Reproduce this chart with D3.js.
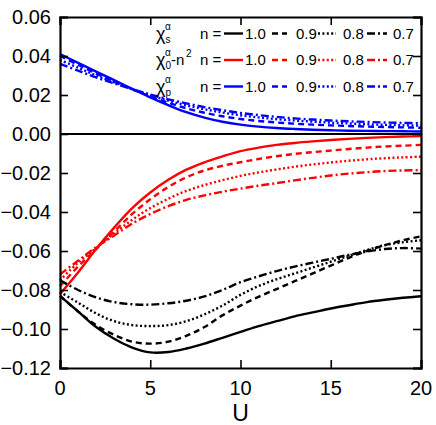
<!DOCTYPE html>
<html><head><meta charset="utf-8">
<script src="https://cdn.jsdelivr.net/npm/d3@7"></script>
<style>body{margin:0;background:#fff}</style>
</head><body>
<svg id="c" width="436" height="425"></svg>
<script>
const U = [0,1,2,3,4,5,6,7,8,9,10,11,12,13,14,15,16,17,18,19,20];
const nLabels = ["1.0","0.9","0.8","0.7"];
const xTicks = [0,5,10,15,20];
const yTicks = [0.06,0.04,0.02,0.00,-0.02,-0.04,-0.06,-0.08,-0.10,-0.12];

// chi_s (black)
const chiS_10 = [-0.083,-0.091,-0.099,-0.105,-0.1095,-0.112,-0.1118,-0.110,-0.1075,-0.1045,-0.1015,-0.0985,-0.096,-0.0935,-0.0915,-0.0895,-0.0878,-0.0862,-0.0850,-0.0840,-0.0832];
const chiS_09 = [-0.083,-0.091,-0.098,-0.103,-0.1065,-0.1075,-0.1065,-0.1035,-0.099,-0.093,-0.088,-0.0835,-0.0795,-0.0755,-0.0715,-0.0675,-0.0635,-0.0600,-0.0570,-0.0545,-0.0525];
const chiS_08 = [-0.081,-0.0865,-0.092,-0.096,-0.098,-0.0985,-0.098,-0.0960,-0.0925,-0.0880,-0.0825,-0.0780,-0.0745,-0.0715,-0.0685,-0.0655,-0.0625,-0.0595,-0.0570,-0.0555,-0.0545];
const chiS_07 = [-0.075,-0.080,-0.0838,-0.0862,-0.0873,-0.0875,-0.0868,-0.0855,-0.0833,-0.0800,-0.0760,-0.0730,-0.0703,-0.0680,-0.0660,-0.0640,-0.0620,-0.0603,-0.0590,-0.0585,-0.0588];

// chi_0 - n^2 (red)
const chi0_10 = [-0.082,-0.071,-0.059,-0.048,-0.038,-0.030,-0.0235,-0.0183,-0.0145,-0.0115,-0.0088,-0.0070,-0.0056,-0.0046,-0.0038,-0.0031,-0.0025,-0.0020,-0.0016,-0.0013,-0.0011];
const chi0_09 = [-0.078,-0.068,-0.059,-0.050,-0.041,-0.0335,-0.0272,-0.0222,-0.0187,-0.0163,-0.0145,-0.0128,-0.0114,-0.0102,-0.0093,-0.0085,-0.0077,-0.0070,-0.0064,-0.0060,-0.0056];
const chi0_08 = [-0.075,-0.066,-0.0585,-0.051,-0.044,-0.0380,-0.0332,-0.0292,-0.0262,-0.0237,-0.0215,-0.0197,-0.0182,-0.0168,-0.0156,-0.0146,-0.0137,-0.0130,-0.0124,-0.0120,-0.0116];
const chi0_07 = [-0.072,-0.065,-0.058,-0.052,-0.046,-0.0410,-0.0370,-0.0338,-0.0315,-0.0296,-0.0280,-0.0265,-0.0252,-0.0238,-0.0225,-0.0213,-0.0203,-0.0196,-0.0190,-0.0187,-0.0185];

// chi_p (blue)
const chiP_10 = [0.041,0.0365,0.032,0.0276,0.0232,0.0188,0.0148,0.0112,0.0084,0.0063,0.0048,0.0038,0.0031,0.0026,0.0022,0.0019,0.0017,0.0016,0.0015,0.0014,0.0013];
const chiP_09 = [0.040,0.0355,0.031,0.0268,0.0229,0.0193,0.0160,0.0132,0.0109,0.0091,0.0077,0.0067,0.0059,0.0053,0.0048,0.0044,0.0041,0.0038,0.0036,0.0034,0.0032];
const chiP_08 = [0.038,0.0340,0.030,0.0265,0.0230,0.0199,0.0171,0.0147,0.0127,0.0110,0.0096,0.0085,0.0076,0.0069,0.0063,0.0058,0.0054,0.0050,0.0047,0.0045,0.0043];
const chiP_07 = [0.036,0.0325,0.029,0.0260,0.0230,0.0203,0.0178,0.0157,0.0138,0.0122,0.0108,0.0097,0.0088,0.0080,0.0074,0.0069,0.0065,0.0062,0.0059,0.0057,0.0055];

const dashes = ["none","6,4","2,2.4","8,3,2,3"];
const groups = [
  {color:"#0000ff", series:[chiP_10,chiP_09,chiP_08,chiP_07]},
  {color:"#ff0000", series:[chi0_10,chi0_09,chi0_08,chi0_07]},
  {color:"#000000", series:[chiS_10,chiS_09,chiS_08,chiS_07]}
];

const L=60,R=421,T=17,B=368;
const font = "'Liberation Sans', Arial, sans-serif";
const svg = d3.select("#c");
const x = d3.scaleLinear().domain([0,20]).range([L,R]);
const y = d3.scaleLinear().domain([-0.12,0.06]).range([B,T]);

const plot = svg.append("g");
plot.append("line").attr("x1",L).attr("x2",R).attr("y1",y(0)).attr("y2",y(0))
  .attr("stroke","#000").attr("stroke-width",2.2);

const line = d3.line().x((d,i)=>x(U[i])).y(d=>y(d)).curve(d3.curveCatmullRom.alpha(0.5));
groups.forEach(g=>{
  g.series.forEach((s,k)=>{
    plot.append("path").attr("d",line(s)).attr("fill","none")
      .attr("stroke",g.color).attr("stroke-width",2.4)
      .attr("stroke-dasharray",dashes[k]);
  });
});

// axes with inward ticks
const xMinor = d3.range(0,21,1);
const yMinor = d3.range(-0.12,0.0601,0.005);
const gB = svg.append("g").attr("transform",`translate(0,${B})`);
gB.call(d3.axisTop(x).tickValues(xMinor).tickSize(4).tickFormat(""));
gB.call(d3.axisTop(x).tickValues(xTicks).tickSize(8).tickFormat(""));
const gT = svg.append("g").attr("transform",`translate(0,${T})`);
gT.call(d3.axisBottom(x).tickValues(xMinor).tickSize(4).tickFormat(""));
gT.call(d3.axisBottom(x).tickValues(xTicks).tickSize(8).tickFormat(""));
const gL = svg.append("g").attr("transform",`translate(${L},0)`);
gL.call(d3.axisRight(y).tickValues(yMinor).tickSize(4).tickFormat(""));
gL.call(d3.axisRight(y).tickValues(yTicks).tickSize(8).tickFormat(""));
const gR = svg.append("g").attr("transform",`translate(${R},0)`);
gR.call(d3.axisLeft(y).tickValues(yMinor).tickSize(4).tickFormat(""));
gR.call(d3.axisLeft(y).tickValues(yTicks).tickSize(8).tickFormat(""));
svg.selectAll(".domain").attr("stroke","#000").attr("stroke-width",2.2);
svg.selectAll(".tick line").attr("stroke","#000").attr("stroke-width",1.6);

// tick labels
svg.append("g").selectAll("text").data(xTicks).join("text")
  .attr("x",d=>x(d)).attr("y",395).attr("text-anchor","middle")
  .attr("font-family",font).attr("font-size",20).text(d=>d);
svg.append("g").selectAll("text").data(yTicks).join("text")
  .attr("x",51).attr("y",d=>y(d)+7).attr("text-anchor","end")
  .attr("font-family",font).attr("font-size",20).text(d=>d3.format(".2f")(d));
svg.append("text").attr("x",x(10)).attr("y",421).attr("text-anchor","middle")
  .attr("font-family",font).attr("font-size",23).text("U");

// legend
const rows = [
  {y:33.5, color:"#000000", sub:"s", extra:false},
  {y:60,   color:"#ff0000", sub:"0", extra:true},
  {y:86.5, color:"#0000ff", sub:"p", extra:false}
];
const segX = [[224,243],[272,287],[318,336],[367,387]];
const labX = [245,296,343,393];
const leg = svg.append("g").attr("font-family",font).attr("fill","#000");
rows.forEach(r=>{
  const base = r.y+5;
  leg.append("text").attr("x",156).attr("y",base+1).attr("font-size",18).text("χ");
  leg.append("text").attr("x",165).attr("y",base-9).attr("font-size",10).text("α");
  leg.append("text").attr("x",165.5).attr("y",base+4).attr("font-size",10).text(r.sub);
  if(r.extra){
    leg.append("text").attr("x",171).attr("y",base).attr("font-size",15).text("-n");
    leg.append("text").attr("x",186).attr("y",base-8).attr("font-size",10).text("2");
  }
  leg.append("text").attr("x",200).attr("y",base).attr("font-size",15).text("n =");
  segX.forEach((s,k)=>{
    leg.append("line").attr("x1",s[0]).attr("x2",s[1]).attr("y1",r.y).attr("y2",r.y)
      .attr("stroke",r.color).attr("stroke-width",2.4).attr("stroke-dasharray",dashes[k]);
    leg.append("text").attr("x",labX[k]).attr("y",base).attr("font-size",15).text(nLabels[k]);
  });
});
</script>
</body></html>
